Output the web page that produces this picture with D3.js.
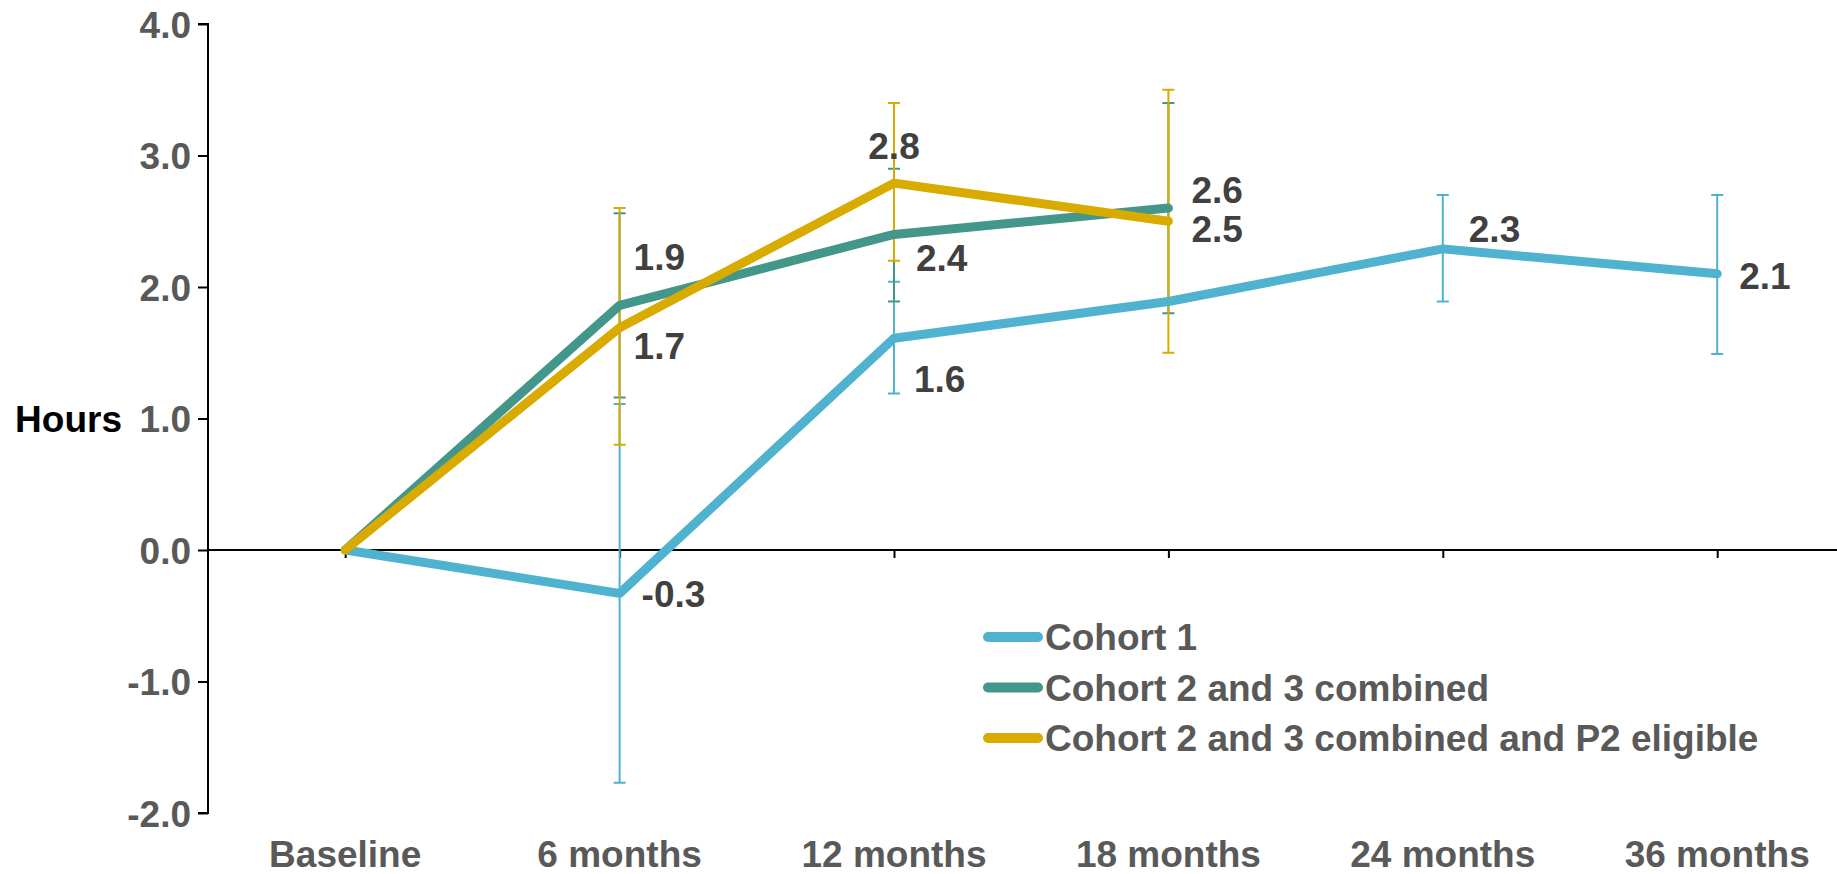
<!DOCTYPE html>
<html>
<head>
<meta charset="utf-8">
<script src="https://cdn.jsdelivr.net/npm/d3@7"></script>
<style>
  html, body { margin: 0; padding: 0; background: #fff; }
  svg { display: block; font-family: "Liberation Sans", Arial, sans-serif; font-weight: bold; }
</style>
</head>
<body>
<svg id="chart" width="1837" height="874"></svg>
<script>
// Time points
const categories = ["Baseline", "6 months", "12 months", "18 months", "24 months", "36 months"];

// Mean change from baseline (hours) with lower / upper error limits
const cohort1Values = [0, -0.33, 1.61, 1.89, 2.29, 2.10];
const cohort1Low    = [null, -1.77, 1.19, null, 1.89, 1.49];
const cohort1High   = [null, 1.11, 2.04, null, 2.70, 2.70];

const cohort23Values = [0, 1.86, 2.40, 2.60, null, null];
const cohort23Low    = [null, 1.16, 1.89, 1.80, null, null];
const cohort23High   = [null, 2.56, 2.90, 3.40, null, null];

const p2Values = [0, 1.69, 2.79, 2.50, null, null];
const p2Low    = [null, 0.80, 2.20, 1.50, null, null];
const p2High   = [null, 2.60, 3.40, 3.50, null, null];

const yTicks = [-2, -1, 0, 1, 2, 3, 4];
const seriesNames = ["Cohort 1", "Cohort 2 and 3 combined", "Cohort 2 and 3 combined and P2 eligible"];

// Data label placement (offsets from the point, in px); null = no label
const labelOffsets = [
  [null, [22, 0, "start"], [20, 40, "start"], null, [26, -20, "start"], [22, 2, "start"]],
  [null, [14, -49, "start"], [22, 23, "start"], [23, -18, "start"], null, null],
  [null, [14, 18, "start"], [0, -37, "middle"], [23, 7, "start"], null, null]
];

const colors = ["#4FB3D0", "#43968A", "#D9AA00"];

const series = [
  { name: seriesNames[0], values: cohort1Values, low: cohort1Low, high: cohort1High, color: colors[0] },
  { name: seriesNames[1], values: cohort23Values, low: cohort23Low, high: cohort23High, color: colors[1] },
  { name: seriesNames[2], values: p2Values, low: p2Low, high: p2High, color: colors[2] }
];

const svg = d3.select("#chart");
const axisX = 208;
const x = d3.scalePoint().domain(categories).range([axisX, axisX + 6 * 274.4]).padding(0.5);
const y = d3.scaleLinear().domain([-2, 4]).range([813, 24]);

const tickColor = "#595959";
const labelColor = "#404040";
const fontSize = 37;

// Plain hyphen for negative numbers
const locale = d3.formatLocale({ decimal: ".", thousands: ",", grouping: [3], currency: ["", ""], minus: "-" });
const fmt = locale.format(".1f");

// Y axis
const yAxis = d3.axisLeft(y).tickValues(yTicks).tickSize(10).tickPadding(7).tickFormat(fmt);
const gy = svg.append("g").attr("transform", `translate(${axisX},0)`).call(yAxis);
gy.select(".domain").attr("stroke", "#000").attr("stroke-width", 2)
  .attr("d", `M-10,${y(4)}H0V${y(-2)}H-10`);
gy.selectAll(".tick line").attr("stroke", "#000").attr("stroke-width", 2);
gy.selectAll(".tick text").attr("fill", tickColor).attr("font-size", fontSize)
  .attr("font-family", "Liberation Sans, Arial, sans-serif").attr("font-weight", "bold")
  .attr("dy", "0.36em");

// Y axis title
svg.append("text").attr("x", 122).attr("y", y(1)).attr("dy", "0.36em")
  .attr("text-anchor", "end").attr("font-size", fontSize).attr("fill", "#000")
  .text("Hours");

// X axis along zero
const xAxis = d3.axisBottom(x).tickSize(8).tickFormat("");
const gx = svg.append("g").attr("transform", `translate(0,${y(0)})`).call(xAxis);
gx.select(".domain").attr("stroke", "#000").attr("stroke-width", 2)
  .attr("d", `M${axisX},0H1837`);
gx.selectAll(".tick line").attr("stroke", "#000").attr("stroke-width", 2);

// Category labels at the bottom
svg.append("g").selectAll("text").data(categories).join("text")
  .attr("x", d => x(d)).attr("y", 867)
  .attr("text-anchor", "middle").attr("font-size", fontSize).attr("fill", tickColor)
  .text(d => d);

// Error bars
const capHalf = 6;
series.forEach(s => {
  const g = svg.append("g").attr("stroke", s.color).attr("stroke-width", 2).attr("fill", "none");
  categories.forEach((c, i) => {
    if (s.low[i] == null || s.high[i] == null) return;
    const cx = x(c), y0 = y(s.low[i]), y1 = y(s.high[i]);
    g.append("path").attr("d",
      `M${cx},${y0}V${y1}M${cx - capHalf},${y0}H${cx + capHalf}M${cx - capHalf},${y1}H${cx + capHalf}`);
  });
});

// Lines
const line = d3.line()
  .defined(d => d.v != null)
  .x(d => x(d.c)).y(d => y(d.v));
series.forEach(s => {
  const pts = categories.map((c, i) => ({ c, v: s.values[i] }));
  svg.append("path").datum(pts).attr("d", line)
    .attr("fill", "none").attr("stroke", s.color).attr("stroke-width", 9)
    .attr("stroke-linecap", "round").attr("stroke-linejoin", "round");
});

// Data labels
series.forEach((s, si) => {
  categories.forEach((c, i) => {
    const off = labelOffsets[si][i];
    if (!off || s.values[i] == null) return;
    svg.append("text")
      .attr("x", x(c) + off[0]).attr("y", y(s.values[i]) + off[1]).attr("dy", "0.36em")
      .attr("text-anchor", off[2]).attr("font-size", fontSize).attr("fill", labelColor)
      .text(fmt(s.values[i]));
  });
});

// Legend
const legend = svg.append("g").attr("transform", "translate(983,637)");
series.forEach((s, i) => {
  const row = legend.append("g").attr("transform", `translate(0,${i * 50.5})`);
  row.append("line").attr("x1", 5).attr("x2", 55).attr("y1", 0).attr("y2", 0)
    .attr("stroke", s.color).attr("stroke-width", 10).attr("stroke-linecap", "round");
  row.append("text").attr("x", 62).attr("y", 0).attr("dy", "0.36em")
    .attr("font-size", fontSize).attr("fill", tickColor).text(s.name);
});
</script>
</body>
</html>
